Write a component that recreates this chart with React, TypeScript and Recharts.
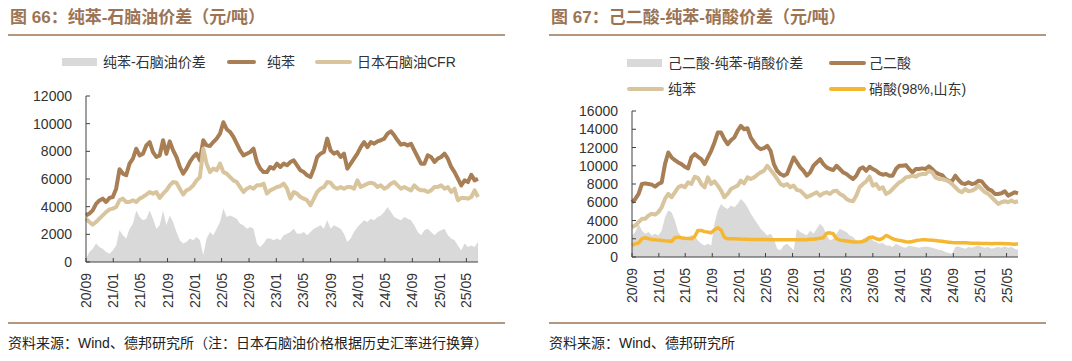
import { ComposedChart, Area, Line, XAxis, YAxis } from "recharts";

const DAY = 86400000;
const START = Date.UTC(2020, 8, 1);

const tickLabels = [
  "20/09", "21/01", "21/05", "21/09", "22/01", "22/05", "22/09", "23/01",
  "23/05", "23/09", "24/01", "24/05", "24/09", "25/01", "25/05",
];
const leftYTicks = [0, 2000, 4000, 6000, 8000, 10000, 12000];
const rightYTicks = [0, 2000, 4000, 6000, 8000, 10000, 12000, 14000, 16000];

// 图66
const naphthaSpread = [
  240, 720, 960, 1330, 1080, 960, 720, 600, 840, 1200,
  2290, 1930, 1690, 2410, 2770, 3730, 3250, 3010, 3130, 3730,
  3130, 2410, 2650, 3730, 2650, 3370, 2890, 2170, 1570, 1330,
  1450, 1690, 1570, 1810, 1570, 480, 1690, 2170, 1930, 2410,
  2890, 3860, 3250, 3370, 3250, 3130, 2770, 2650, 2410, 2530,
  2410, 1330, 1080, 1330, 1690, 1690, 1570, 1690, 1570, 1930,
  2050, 2170, 2410, 2050, 2050, 2170, 1930, 2170, 2410, 2530,
  2650, 2410, 3010, 2410, 2650, 2530, 2410, 2050, 1450, 1690,
  2170, 2530, 2770, 3010, 2890, 3130, 3010, 3250, 3370, 3610,
  3980, 3610, 3250, 3130, 3010, 3250, 3130, 3010, 2650, 2170,
  1930, 2290, 2410, 2170, 1930, 2170, 2290, 2410, 1930, 1690,
  1570, 1200, 840, 1330, 1080, 1200, 1080, 1450,
];
const benzene = [
  3370, 3500, 3730, 4200, 4450, 4580, 4340, 4630, 4700, 5300,
  6700, 6390, 6270, 7110, 7470, 8190, 7710, 7830, 8430, 8670,
  7950, 7590, 7710, 8800, 7830, 8720, 8070, 7590, 6870, 6390,
  6750, 7230, 7590, 7830, 7350, 8800, 8430, 8390, 8670, 8920,
  9280, 10100, 9600, 9400, 9040, 8550, 8070, 7710, 7830, 7950,
  8190, 7230, 6750, 6500, 6500, 6870, 6750, 7110, 6870, 7110,
  6990, 7230, 7350, 6990, 6630, 6500, 6270, 6140, 6750, 7590,
  7830, 7950, 8920, 8070, 7830, 7950, 7590, 7830, 6750, 7110,
  7470, 7830, 8310, 8670, 8310, 8670, 8550, 8720, 8800, 8920,
  9280, 9450, 9160, 8800, 8480, 8550, 8430, 8550, 8070, 7590,
  7110, 7110, 7710, 7590, 7230, 7470, 7590, 7830, 7470, 6870,
  6500, 6020, 5540, 5900, 5780, 6310, 5900, 6020,
];
const naphtha = [
  3130, 2890, 2700, 2890, 3130, 3370, 3610, 3800, 3860, 3980,
  4460, 4580, 4340, 4340, 4460, 4340, 4580, 4700, 4870, 5060,
  4940, 5060, 4630, 4940, 5180, 5540, 5780, 5730, 5300, 4870,
  5180, 5300, 5540, 5900, 6140, 8190, 7110, 6500, 6750, 6630,
  7110, 6500, 6390, 6140, 5900, 5780, 5420, 5060, 5300, 5420,
  5300, 5540, 5540, 5660, 4940, 5180, 5300, 5420, 5490, 5660,
  5300, 4580, 5060, 4940, 4700, 4580, 4460, 4100, 4580, 5060,
  5300, 5420, 5780, 5730, 5420, 5300, 5420, 5300, 5420, 5420,
  5300, 5900, 5420, 5540, 5660, 5730, 5660, 5420, 5540, 5300,
  5420, 5660, 5780, 5540, 5300, 5420, 5300, 5180, 5540, 5300,
  5180, 5180, 5060, 5180, 5420, 5420, 5540, 5300, 5420, 5060,
  5300, 4460, 4630, 4630, 4580, 4700, 5180, 4700,
];

// 图67
const adipicSpread = [
  2360, 2730, 3640, 2910, 2550, 2730, 2360, 2550, 2360, 2910,
  4360, 5090, 4910, 4000, 2730, 2180, 2000, 2180, 2360, 2360,
  1820, 1450, 1270, 1450, 1270, 3640, 5090, 5820, 5450, 5270,
  5640, 5450, 5820, 6360, 6000, 5450, 4730, 4180, 3640, 3090,
  2730, 2360, 2550, 2000, 910, 730, 1270, 1450, 1090, 730,
  3090, 2730, 2550, 2360, 2910, 2550, 3090, 3640, 3270, 2360,
  1820, 2000, 2550, 3090, 2910, 2730, 2360, 2180, 1820, 1640,
  2000, 2180, 2360, 1820, 1640, 1450, 1530, 1270, 1270, 1090,
  1450, 1270, 1090, 1020, 1270, 1160, 1090, 1020, 1090, 1160,
  1090, 1020, 910, 800, 730, 550, 440, 360, 1090, 1160,
  1020, 910, 1090, 1020, 1160, 1270, 1090, 1020, 1090, 910,
  1020, 1090, 1020, 1160, 1020, 1090, 910, 800,
];
const adipic = [
  6000, 6360, 6910, 8000, 8070, 8000, 7930, 7710, 8000, 8180,
  10180, 11450, 10910, 10620, 10360, 10180, 9890, 9710, 10910, 11270,
  10980, 10730, 10180, 10910, 11640, 12550, 13640, 13640, 12910, 12360,
  12800, 13090, 13820, 14360, 14000, 14110, 13090, 12550, 12070, 11820,
  11930, 12180, 11640, 10180, 9450, 9090, 8910, 9090, 10000, 10910,
  10360, 9820, 9450, 8910, 9270, 10000, 10360, 10730, 10180, 9820,
  9640, 9530, 10000, 9640, 9270, 9090, 8800, 8550, 8910, 9640,
  9820, 9450, 9890, 9640, 9450, 9160, 9020, 9090, 8910, 8910,
  9640, 10000, 10000, 10070, 9640, 9270, 9640, 9640, 9710, 9640,
  9930, 9640, 9270, 9090, 8980, 8550, 8360, 8290, 8910, 8440,
  8070, 8000, 8180, 8000, 8070, 8360, 8290, 7820, 7450, 7270,
  6910, 6910, 6980, 7200, 6730, 6910, 7090, 6980,
];
const benzeneB = [
  3270, 3450, 3820, 4180, 4180, 4550, 4730, 4650, 4910, 5450,
  6360, 6910, 6550, 7090, 7640, 7820, 7640, 8180, 8000, 8800,
  8650, 8000, 7640, 8730, 8000, 8290, 7820, 7270, 6550, 6910,
  7450, 7640, 7820, 8360, 8070, 8730, 8550, 8730, 9020, 9270,
  9450, 10000, 9530, 9090, 8550, 8000, 7820, 8000, 7640, 7820,
  7350, 7270, 6910, 6550, 6730, 6910, 7090, 6730, 6980, 7090,
  6910, 7200, 7270, 6910, 6730, 6360, 6180, 6110, 6730, 7640,
  8000, 8290, 8800, 7820, 8000, 7450, 7640, 6910, 7090, 7450,
  7820, 8180, 8360, 8730, 8800, 8910, 8800, 9020, 9090, 9090,
  9450, 9270, 8730, 8550, 8550, 8440, 8290, 8000, 7640, 7270,
  7090, 7450, 7200, 7270, 7450, 7820, 7450, 7090, 6910, 6550,
  6180, 5820, 6000, 6110, 6000, 6180, 6000, 6110,
];
const nitric = [
  1270, 1450, 1530, 2000, 2110, 2000, 1930, 1890, 1850, 1820,
  1780, 1750, 1700, 2110, 2180, 2110, 2050, 2040, 2000, 2250,
  2910, 2910, 2780, 2730, 2650, 2980, 3200, 2950, 2150, 2000,
  2000, 2000, 1980, 1960, 1950, 1940, 1930, 1920, 1920, 1920,
  1910, 1910, 1900, 1900, 1900, 1900, 1900, 1900, 1900, 1900,
  1900, 1900, 1900, 1900, 1950, 1950, 2000, 2050, 2100, 2600,
  2650, 2550, 2000, 1850, 1800, 1750, 1700, 1650, 1640, 1650,
  1700, 1850, 2150, 2180, 2000, 1900, 2050, 2360, 2200, 2000,
  1880, 1820, 1750, 1680, 1650, 1700, 1800, 1850, 1880, 1880,
  1850, 1830, 1800, 1760, 1720, 1660, 1620, 1580, 1560, 1560,
  1550, 1550, 1540, 1520, 1500, 1500, 1480, 1480, 1470, 1460,
  1470, 1480, 1470, 1460, 1440, 1420, 1400, 1450,
];

const dates = benzene.map((_, i) => START + i * 15 * DAY);
const tickDates = tickLabels.map((s) => {
  const [yy, mm] = s.split("/");
  return Date.UTC(2000 + Number(yy), Number(mm) - 1, 1);
});
const fmtDate = (t: number) => {
  const d = new Date(t);
  return `${String(d.getUTCFullYear()).slice(2)}/${String(d.getUTCMonth() + 1).padStart(2, "0")}`;
};

const leftData = dates.map((t, i) => ({
  t,
  spread: naphthaSpread[i],
  benzene: benzene[i],
  naphtha: naphtha[i],
}));
const rightData = dates.map((t, i) => ({
  t,
  spread: adipicSpread[i],
  adipic: adipic[i],
  benzene: benzeneB[i],
  nitric: nitric[i],
}));

const BROWN = "#a87e55";
const TAN = "#d9c59d";
const GRAY = "#d9d9d9";
const ORANGE = "#f5b732";
const TITLE = "#9c7454";
const RULE = "#b8967a";
const AXIS = "#404040";
const FONT = "'Liberation Sans', 'Noto Sans CJK SC', sans-serif";

function YTick({ x, y, payload, gap }: any) {
  return (
    <g>
      <line x1={x + gap} x2={x + gap + 4} y1={y} y2={y} stroke={AXIS} />
      <text x={x} y={y} textAnchor="end" dominantBaseline="central" fontSize={14} fill="#333" fontFamily={FONT}>
        {payload.value}
      </text>
    </g>
  );
}

function XTick({ x, y, payload, gap }: any) {
  return (
    <g>
      <line x1={x} x2={x} y1={y - gap} y2={y - gap - 4} stroke={AXIS} />
      <text
        x={x}
        y={y}
        transform={`rotate(-90 ${x} ${y})`}
        textAnchor="end"
        dominantBaseline="central"
        fontSize={14}
        fill="#333"
        fontFamily={FONT}
      >
        {fmtDate(payload.value)}
      </text>
    </g>
  );
}

function Swatch({ left, top, color, box }: { left: number; top: number; color: string; box?: boolean }) {
  return (
    <div
      style={{
        position: "absolute",
        left,
        top: box ? top - 4 : top - 2,
        width: box ? 35 : 37,
        height: box ? 8 : 4,
        borderRadius: box ? 0 : 2,
        background: color,
      }}
    />
  );
}

function Label({ left, top, text }: { left: number; top: number; text: string }) {
  return (
    <div style={{ position: "absolute", left, top: top - 9, lineHeight: "18px", fontSize: 14, color: "#333", whiteSpace: "nowrap" }}>
      {text}
    </div>
  );
}

function Frame({ left, title, source }: { left: number; title: string; source: string }) {
  return (
    <>
      <div
        style={{
          position: "absolute",
          left: left + 2,
          top: 8,
          lineHeight: "20px",
          fontSize: 17,
          fontWeight: 700,
          color: TITLE,
          whiteSpace: "nowrap",
        }}
      >
        {title}
      </div>
      <div style={{ position: "absolute", left, top: 34, width: 497, height: 2, background: RULE }} />
      <div style={{ position: "absolute", left, top: 322, width: 497, height: 2, background: RULE }} />
      <div
        style={{
          position: "absolute",
          left,
          top: 334,
          lineHeight: "18px",
          fontSize: 14,
          color: "#222",
          whiteSpace: "nowrap",
        }}
      >
        {source}
      </div>
    </>
  );
}

export default function App() {
  return (
    <div
      style={{
        position: "absolute",
        left: 0,
        top: 0,
        width: 1072,
        height: 361,
        background: "#fff",
        fontFamily: FONT,
        overflow: "hidden",
      }}
    >
      <Frame left={8} title="图 66：纯苯-石脑油价差（元/吨）" source="资料来源：Wind、德邦研究所（注：日本石脑油价格根据历史汇率进行换算）" />
      <Frame left={549} title="图 67：己二酸-纯苯-硝酸价差（元/吨）" source="资料来源：Wind、德邦研究所" />

      {/* legend 66 */}
      <Swatch left={62} top={62} color={GRAY} box />
      <Label left={103} top={62} text="纯苯-石脑油价差" />
      <div style={{ position: "absolute", left: 227, top: 60, width: 29, height: 4, borderRadius: 2, background: BROWN }} />
      <Label left={267} top={62} text="纯苯" />
      <Swatch left={315} top={62} color={TAN} />
      <Label left={357} top={62} text="日本石脑油CFR" />

      {/* legend 67 */}
      <Swatch left={627} top={63} color={GRAY} box />
      <Label left={668} top={63} text="己二酸-纯苯-硝酸价差" />
      <Swatch left={829} top={63} color={BROWN} />
      <Label left={869} top={63} text="己二酸" />
      <Swatch left={627} top={89} color={TAN} />
      <Label left={668} top={89} text="纯苯" />
      <Swatch left={829} top={89} color={ORANGE} />
      <Label left={869} top={89} text="硝酸(98%,山东)" />

      <div style={{ position: "absolute", left: 0, top: 80 }}>
        <ComposedChart width={536} height={240} data={leftData} margin={{ top: 16, right: 58, bottom: 8, left: 0 }}>
          <XAxis
            dataKey="t"
            type="number"
            domain={[dates[0], dates[dates.length - 1]]}
            ticks={tickDates}
            interval={0}
            height={50}
            tickSize={0}
            tickMargin={11}
            tickLine={false}
            axisLine={{ stroke: AXIS }}
            tick={(p: any) => <XTick {...p} gap={11} />}
          />
          <YAxis
            domain={[0, 12000]}
            ticks={leftYTicks}
            interval={0}
            width={86}
            tickSize={0}
            tickMargin={14}
            tickLine={false}
            axisLine={{ stroke: AXIS }}
            tick={(p: any) => <YTick {...p} gap={14} />}
          />
          <Area type="linear" dataKey="spread" fill={GRAY} fillOpacity={1} stroke="none" isAnimationActive={false} />
          <Line type="linear" dataKey="benzene" stroke={BROWN} strokeWidth={4} dot={false} strokeLinejoin="round" isAnimationActive={false} />
          <Line type="linear" dataKey="naphtha" stroke={TAN} strokeWidth={4} dot={false} strokeLinejoin="round" isAnimationActive={false} />
        </ComposedChart>
      </div>

      <div style={{ position: "absolute", left: 536, top: 100 }}>
        <ComposedChart width={536} height={220} data={rightData} margin={{ top: 11, right: 54, bottom: 8, left: 0 }}>
          <XAxis
            dataKey="t"
            type="number"
            domain={[dates[0], dates[dates.length - 1]]}
            ticks={tickDates}
            interval={0}
            height={55}
            tickSize={0}
            tickMargin={11}
            tickLine={false}
            axisLine={{ stroke: AXIS }}
            tick={(p: any) => <XTick {...p} gap={11} />}
          />
          <YAxis
            domain={[0, 16000]}
            ticks={rightYTicks}
            interval={0}
            width={96}
            tickSize={0}
            tickMargin={14}
            tickLine={false}
            axisLine={{ stroke: AXIS }}
            tick={(p: any) => <YTick {...p} gap={14} />}
          />
          <Area type="linear" dataKey="spread" fill={GRAY} fillOpacity={1} stroke="none" isAnimationActive={false} />
          <Line type="linear" dataKey="adipic" stroke={BROWN} strokeWidth={4} dot={false} strokeLinejoin="round" isAnimationActive={false} />
          <Line type="linear" dataKey="benzene" stroke={TAN} strokeWidth={4} dot={false} strokeLinejoin="round" isAnimationActive={false} />
          <Line type="linear" dataKey="nitric" stroke={ORANGE} strokeWidth={3.5} dot={false} strokeLinejoin="round" isAnimationActive={false} />
        </ComposedChart>
      </div>
    </div>
  );
}
